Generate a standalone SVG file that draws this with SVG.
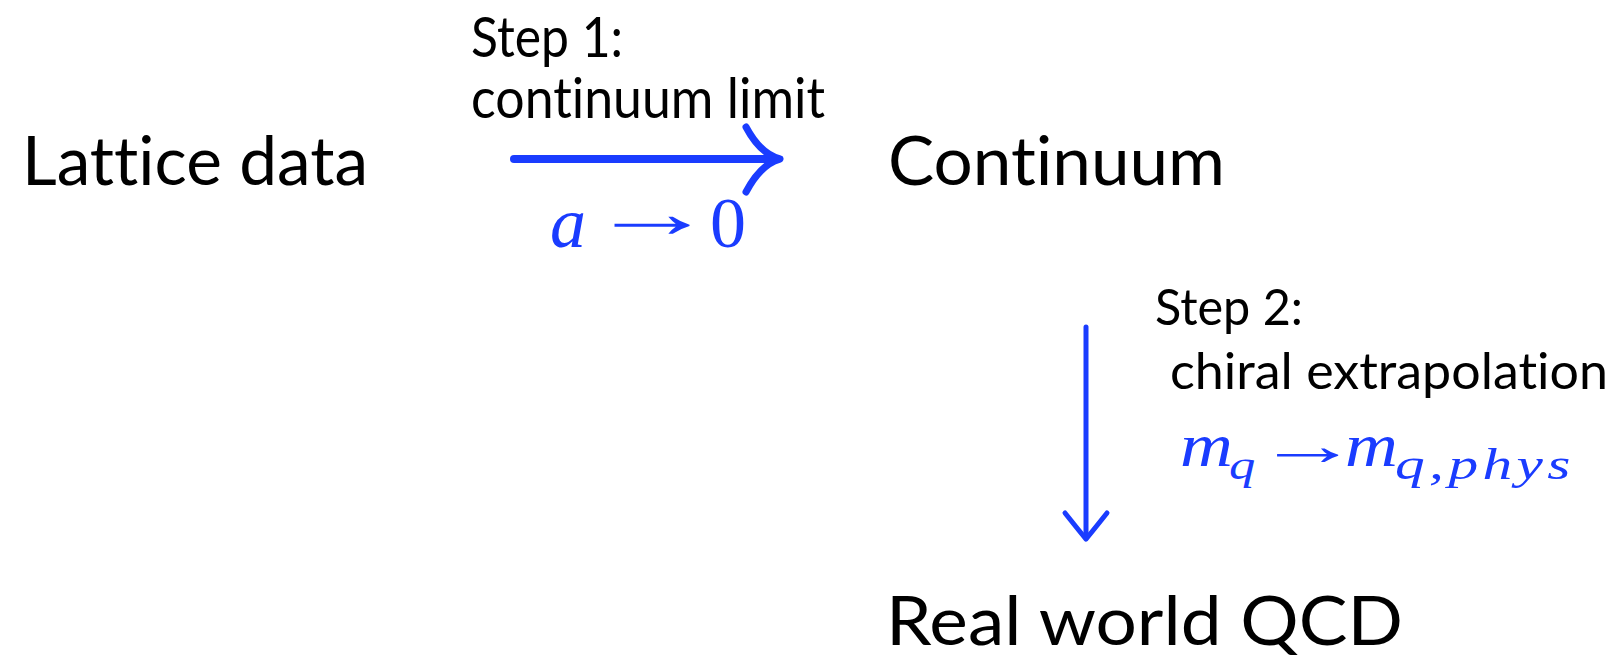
<svg xmlns="http://www.w3.org/2000/svg" width="1624" height="658" viewBox="0 0 1624 658">
<style>
.lbl{font-family:Lato,"Open Sans","Liberation Sans",sans-serif;fill:#000;font-variant-ligatures:none;font-feature-settings:"liga" 0,"clig" 0}
.math{font-family:"Liberation Serif","DejaVu Serif",serif;fill:#1a3cff;font-variant-ligatures:none}
.it{font-style:italic}
.conn{stroke:#1a3cff;fill:none;stroke-linecap:round;stroke-linejoin:round}
</style>
<rect width="1624" height="658" fill="#fff"/>
<g id="node-lattice"><text class="lbl" x="22" y="185" font-size="67" textLength="346" lengthAdjust="spacingAndGlyphs">Lattice data</text></g>
<g id="node-continuum"><text class="lbl" x="888" y="185" font-size="67" textLength="337" lengthAdjust="spacingAndGlyphs">Continuum</text></g>
<g id="node-realqcd"><text class="lbl" x="886" y="645" font-size="68" textLength="517" lengthAdjust="spacingAndGlyphs">Real world QCD</text></g>
<g id="connectors">
  <g id="edge-step1">
    <path class="conn" stroke-width="8" d="M514,159 L776,159"/>
    <path class="conn" stroke-width="7" d="M746,127 C755,144 765,155 780,159 C765,163 755,175 746,192"/>
    <text class="lbl" x="471" y="57" font-size="56" textLength="152" lengthAdjust="spacingAndGlyphs">Step 1:</text>
    <text class="lbl" x="471" y="118" font-size="56" textLength="354" lengthAdjust="spacingAndGlyphs">continuum limit</text>
    <text class="math it" x="550" y="247" font-size="72">a</text>
    <text class="math" transform="translate(589,237) scale(1.76,1)" x="0" y="0" font-size="72">→</text>
    <text class="math" x="710" y="247" font-size="72">0</text>
  </g>
  <g id="edge-step2">
    <path class="conn" stroke-width="5" d="M1086,327 L1086,536"/>
    <path class="conn" stroke-width="5" d="M1065,513 C1073,523 1080,532 1086,539 C1092,532 1099,523 1107,513"/>
    <text class="lbl" x="1155" y="325" font-size="51" textLength="148" lengthAdjust="spacingAndGlyphs">Step 2:</text>
    <text class="lbl" x="1170" y="389" font-size="51" textLength="438" lengthAdjust="spacingAndGlyphs">chiral extrapolation</text>
    <text class="math it" transform="translate(1180,466) scale(1.18,1)" x="0" y="0" font-size="62">m</text>
    <text class="math it" transform="translate(1229,479) scale(1.25,1)" x="0" y="0" font-size="42">q</text>
    <text class="math" transform="translate(1256,465) scale(1.78,1)" x="0" y="0" font-size="58">→</text>
    <text class="math it" transform="translate(1345,466) scale(1.18,1)" x="0" y="0" font-size="62">m</text>
    <text class="math it" transform="translate(1395,479) scale(1.35,1)" x="0" y="0" font-size="44" textLength="130" lengthAdjust="spacing">q,phys</text>
  </g>
</g>
</svg>
